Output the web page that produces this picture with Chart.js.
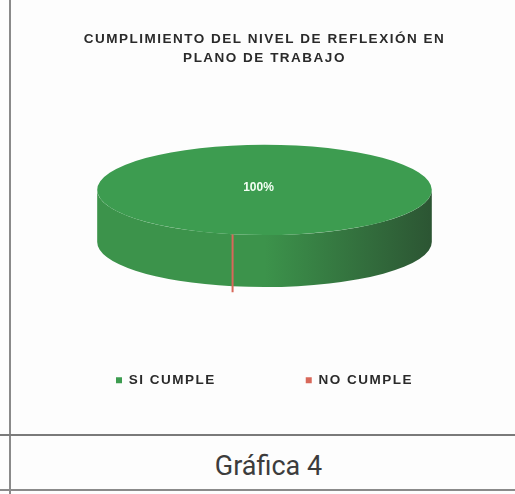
<!DOCTYPE html>
<html lang="es">
<head>
<meta charset="utf-8">
<title>Gráfica 4</title>
<script src="https://cdn.jsdelivr.net/npm/chart.js@4.4.1/dist/chart.umd.min.js"></script>
<style>
  html, body { margin: 0; padding: 0; background: #fff; }
  #page { position: relative; width: 515px; height: 494px; overflow: hidden; background: #fdfdfd; }
  #chartBox { position: absolute; left: 12px; top: 0; width: 500px; height: 434px; }
  .vline { position: absolute; left: 9px; top: 0; width: 2px; height: 494px; background: #8a8a8a; }
  .hline1 { position: absolute; left: 0; top: 434px; width: 515px; height: 2px; background: #7a7a7a; }
  .hline2 { position: absolute; left: 0; top: 489px; width: 515px; height: 2px; background: #8a8a8a; }
  #caption { position: absolute; left: 22px; top: 448px; width: 493px; text-align: center; line-height: 36px;
             font-family: Roboto, "Liberation Sans", sans-serif; font-size: 27px; color: #3c3c3c; }
</style>
</head>
<body>
<div id="page">
  <div id="chartBox"><canvas id="chart"></canvas></div>
  <div class="vline"></div>
  <div class="hline1"></div>
  <div class="hline2"></div>
  <div id="caption">Gráfica 4</div>
</div>
<script>
// Categories and values (percentages of measured points)
const categories = ['SI CUMPLE', 'NO CUMPLE'];
const values = [100, 0];
const sliceColors = ['#3d9c50', '#d8685a'];
const wallLight = ['#3c934b', '#c9584a'];
const wallDark = ['#2c5533', '#8a3a30'];
const titleLines = ['CUMPLIMIENTO DEL NIVEL DE REFLEXIÓN EN', 'PLANO DE TRABAJO'];

const FONT = '"Liberation Sans", Arial, sans-serif';

// Pie drawn as a tilted disc: the library's arcs are flattened into an
// ellipse and a side wall is drawn from each arc's angles.
const disc = {
  rxFrac: 0.338,  // horizontal radius as a fraction of chart-area width
  tilt: 0.27,     // vertical / horizontal radius ratio
  depth: 52,      // wall height in pixels
  yFrac: 0.545    // top-face centre, fraction of chart-area height
};

function discGeometry(chart) {
  const a = chart.chartArea;
  const rx = (a.right - a.left) * disc.rxFrac;
  return {
    cx: (a.left + a.right) / 2,
    cy: a.top + (a.bottom - a.top) * disc.yFrac,
    rx: rx,
    ry: rx * disc.tilt,
    d: disc.depth
  };
}

// wide-set lettering for title and legend
const spacedText = {
  id: 'spacedText',
  beforeLayout(chart) { chart.ctx.letterSpacing = '1.5px'; },
  beforeDraw(chart) { chart.ctx.letterSpacing = '1.5px'; }
};

const tiltedPie = {
  id: 'tiltedPie',
  beforeDatasetsDraw(chart) {
    const ctx = chart.ctx;
    const g = discGeometry(chart);
    const arcs = chart.getDatasetMeta(0).data;
    const TWO_PI = Math.PI * 2;

    // side wall (only the front half, angles 0..PI, is visible)
    arcs.forEach((el, i) => {
      const s = el.startAngle, e = el.endAngle;
      if (e - s <= 0.0001) return;
      const ranges = [];
      for (let k = -2; k <= 2; k++) {
        const a1 = Math.max(s, k * TWO_PI), a2 = Math.min(e, k * TWO_PI + Math.PI);
        if (a2 > a1) ranges.push([a1, a2]);
      }
      ranges.forEach(([a1, a2]) => {
        const grad = ctx.createLinearGradient(g.cx - g.rx, 0, g.cx + g.rx, 0);
        grad.addColorStop(0, wallLight[i]);
        grad.addColorStop(0.5, wallLight[i]);
        grad.addColorStop(1, wallDark[i]);
        ctx.save();
        ctx.beginPath();
        ctx.ellipse(g.cx, g.cy, g.rx, g.ry, 0, a1, a2, false);
        ctx.ellipse(g.cx, g.cy + g.d, g.rx, g.ry, 0, a2, a1, true);
        ctx.closePath();
        ctx.fillStyle = grad;
        ctx.fill();
        ctx.restore();
      });
    });

    // empty slices show only as an edge on the wall
    arcs.forEach((el, i) => {
      if (el.endAngle - el.startAngle > 0.0001) return;
      const ang = el.startAngle;
      const sn = Math.sin(ang);
      if (sn <= 0) return;
      const x = g.cx + g.rx * Math.cos(ang);
      const y = g.cy + g.ry * sn;
      ctx.save();
      ctx.strokeStyle = sliceColors[i];
      ctx.lineWidth = 2;
      ctx.beginPath();
      ctx.moveTo(x, y);
      ctx.lineTo(x, y + g.d + 6);
      ctx.stroke();
      ctx.restore();
    });

    // flatten the library's arcs onto the top face
    const el0 = arcs[0];
    const R = el0.outerRadius;
    ctx.save();
    ctx.translate(g.cx, g.cy);
    ctx.scale(g.rx / R, g.ry / R);
    ctx.translate(-el0.x, -el0.y);
  },
  afterDatasetsDraw(chart) {
    const ctx = chart.ctx;
    ctx.restore();
    const g = discGeometry(chart);
    const ds = chart.data.datasets[0].data;
    const total = ds.reduce((s, v) => s + v, 0);
    const arcs = chart.getDatasetMeta(0).data;
    arcs.forEach((el, i) => {
      const pct = Math.round(ds[i] / total * 100);
      if (pct <= 0) return;
      let px, py;
      if (pct >= 100) {
        px = g.cx - 6; py = g.cy - 2;
      } else {
        const mid = (el.startAngle + el.endAngle) / 2;
        px = g.cx + g.rx * 0.55 * Math.cos(mid);
        py = g.cy + g.ry * 0.55 * Math.sin(mid);
      }
      ctx.save();
      ctx.letterSpacing = '0px';
      ctx.fillStyle = '#f4fff4';
      ctx.font = 'bold 12px ' + FONT;
      ctx.textAlign = 'center';
      ctx.textBaseline = 'middle';
      ctx.fillText(pct + '%', px, py);
      ctx.restore();
    });
  }
};

new Chart(document.getElementById('chart'), {
  type: 'pie',
  data: {
    labels: categories,
    datasets: [{
      data: values,
      backgroundColor: sliceColors,
      borderWidth: 0,
      hoverOffset: 0
    }]
  },
  plugins: [spacedText, tiltedPie],
  options: {
    responsive: true,
    maintainAspectRatio: false,
    animation: false,
    rotation: 191,
    layout: { padding: { left: 5, right: 0, top: 30, bottom: 37 } },
    plugins: {
      tooltip: { enabled: false },
      title: {
        display: true,
        text: titleLines,
        color: '#2a2a2a',
        font: { family: FONT, size: 13.5, weight: 'bold', lineHeight: 1.4 },
        padding: { top: 0, bottom: 10 }
      },
      legend: {
        position: 'bottom',
        labels: {
          color: '#2a2a2a',
          boxWidth: 6,
          boxHeight: 6,
          padding: 90,
          font: { family: FONT, size: 13.5, weight: 'bold' }
        }
      }
    }
  }
});
</script>
</body>
</html>
